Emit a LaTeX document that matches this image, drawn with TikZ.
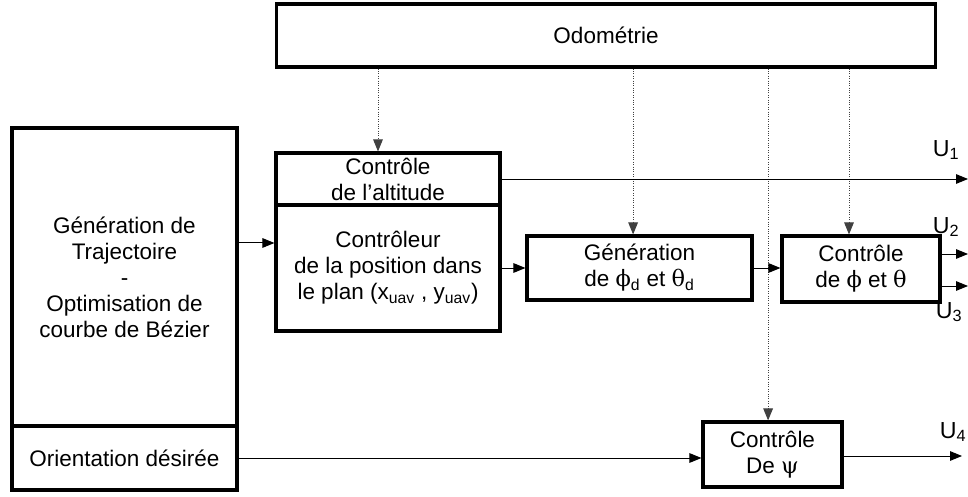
\documentclass[tikz,border=0pt]{standalone}
\usepackage{fontspec}
\setmainfont{Liberation Sans}
\newfontfamily\grk{DejaVu Serif}
\usepackage{tikz}
\usetikzlibrary{arrows.meta,positioning,calc}

\begin{document}
\begin{tikzpicture}[x=0.025cm,y=-0.025cm,
  blk/.style={draw,line width=2.2pt,inner sep=2pt,align=center,
              font=\fontsize{16}{18.5}\selectfont},
  arr/.style={-{Triangle[length=3mm,width=2.4mm]},line width=0.7pt},
  odoarr/.style={arr,densely dotted,draw=black!75},
  lbl/.style={font=\fontsize{16.5}{18.5}\selectfont,inner sep=0pt}
]
\useasboundingbox (0,0) rectangle (968,497);

% blocs
\node[blk,minimum width=16.45cm,minimum height=1.575cm] (odo) at (606,35.5) {Odométrie};
\node[blk,minimum width=5.625cm,minimum height=7.45cm] (traj) at (124.5,277)
  {Génération de\\Trajectoire\\-\\Optimisation de\\courbe de Bézier};
\node[blk,minimum width=5.625cm,minimum height=1.6cm] (orient) at (124.5,458) {Orientation désirée};
\node[blk,minimum width=5.6cm,minimum height=1.3cm] (alt) at (388,179) {Contrôle\\de l’altitude};
\node[blk,minimum width=5.6cm,minimum height=3.15cm] (pos) at (388,268)
  {Contrôleur\\de la position dans\\le plan (x\textsubscript{uav} , y\textsubscript{uav})};
\node[blk,minimum width=5.625cm,minimum height=1.6cm] (gen) at (639.5,268)
  {Génération\\de {\grk ϕ}\textsubscript{d} et {\grk θ}\textsubscript{d}};
\node[blk,minimum width=3.95cm,minimum height=1.65cm] (phth) at (861,269)
  {Contrôle\\de {\grk ϕ} et {\grk θ}};
\node[blk,minimum width=3.475cm,minimum height=1.625cm] (psi) at (772.5,454.5)
  {Contrôle\\De {\grk ψ}};

% sorties
\coordinate (e1) at (968,179);
\coordinate (e2) at (968,254);
\coordinate (e3) at (968,286);
\coordinate (e4) at (962,456);
\node[lbl] (u1) at (946,150) {U\textsubscript{1}};
\node[lbl] (u2) at (946,227) {U\textsubscript{2}};
\node[lbl] (u3) at (949,312) {U\textsubscript{3}};
\node[lbl] (u4) at (953,432) {U\textsubscript{4}};

% liaisons
\draw[odoarr] (odo.south -| {$(alt.north)+(-0.25cm,0)$}) -- ([xshift=-0.25cm]alt.north);
\draw[odoarr] (odo.south -| {$(gen.north)+(-0.16cm,0)$}) -- ([xshift=-0.16cm]gen.north);
\draw[odoarr] (odo.south -| {$(phth.north)+(-0.3cm,0)$}) -- ([xshift=-0.3cm]phth.north);
\draw[odoarr] (odo.south -| {$(psi.north)+(-0.11cm,0)$}) -- ([xshift=-0.11cm]psi.north);
\draw[arr] (traj.east |- {$(pos.west)+(0,0.625cm)$}) -- ([yshift=0.625cm]pos.west);
\draw[arr] (pos) -- (gen);
\draw[arr] (gen.east) -- (gen.east -| phth.west);
\draw[arr] (orient.east) -- (orient.east -| psi.west);
\draw[arr] (alt.east) -- (alt.east -| e1);
\draw[arr] (phth.east |- e2) -- (e2);
\draw[arr] (phth.east |- e3) -- (e3);
\draw[arr] (psi.east |- e4) -- (e4);
\end{tikzpicture}
\end{document}
